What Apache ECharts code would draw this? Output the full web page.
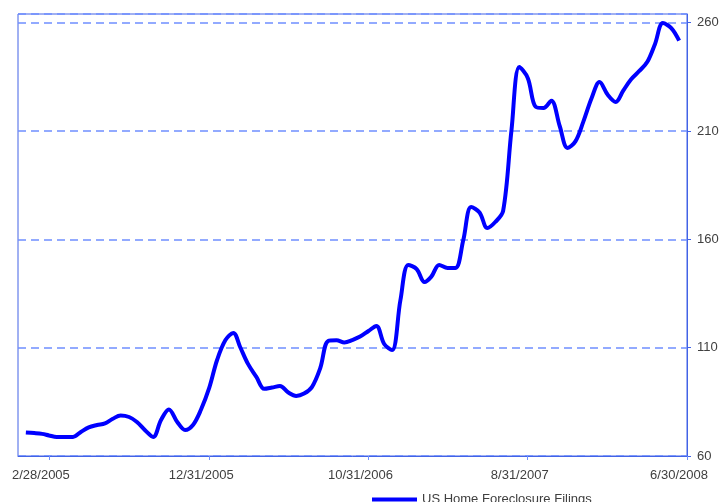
<!DOCTYPE html>
<html>
<head>
<meta charset="utf-8">
<script src="https://cdn.jsdelivr.net/npm/echarts@6/dist/echarts.min.js"></script>
<style>
  html, body { margin: 0; padding: 0; background: #ffffff; }
  #chart { width: 725px; height: 502px; }
</style>
</head>
<body>
<div id="chart"></div>
<script>
const seriesName = 'US Home Foreclosure Filings';

const dates = [
  '2005-01-15','2005-01-31','2005-02-15','2005-02-28','2005-03-15','2005-03-31','2005-04-15','2005-04-30','2005-05-15','2005-05-31',
  '2005-06-15','2005-06-30','2005-07-15','2005-07-31','2005-08-15','2005-08-31','2005-09-15','2005-09-30','2005-10-15','2005-10-31',
  '2005-11-15','2005-11-30','2005-12-15','2005-12-31','2006-01-15','2006-01-31','2006-02-15','2006-02-28','2006-03-15','2006-03-31',
  '2006-04-15','2006-04-30','2006-05-15','2006-05-31','2006-06-15','2006-06-30','2006-07-15','2006-07-31','2006-08-15','2006-08-31',
  '2006-09-15','2006-09-30','2006-10-15','2006-10-31','2006-11-15','2006-11-30','2006-12-15','2006-12-31','2007-01-15','2007-01-31',
  '2007-02-15','2007-02-28','2007-03-15','2007-03-31','2007-04-15','2007-04-30','2007-05-15','2007-05-31','2007-06-15','2007-06-30',
  '2007-07-15','2007-07-31','2007-08-15','2007-08-31','2007-09-15','2007-09-30','2007-10-15','2007-10-31','2007-11-15','2007-11-30',
  '2007-12-15','2007-12-31','2008-01-15','2008-01-31','2008-02-15','2008-02-29','2008-03-15','2008-03-31','2008-04-15','2008-04-30',
  '2008-05-15','2008-05-31','2008-06-15'
];

const values = [
  70.9, 70.6, 70.2, 69.5, 68.8, 68.8, 68.8, 71.1, 73.2, 74.3,
  75.1, 77.2, 78.7, 78.0, 75.7, 71.8, 68.8, 76.6, 81.5, 75.7,
  72.0, 74.3, 81.2, 91.4, 104.3, 113.5, 116.8, 110.3, 102.5, 96.5,
  91.0, 91.6, 92.3, 89.3, 87.7, 88.8, 91.8, 100.6, 113.1, 113.4,
  112.4, 113.5, 115.1, 117.7, 120.0, 111.7, 108.9, 132.0, 148.2, 146.3,
  140.3, 142.8, 148.2, 146.8, 146.8, 159.7, 174.9, 172.4, 165.2, 168.0,
  173.1, 210.5, 239.5, 234.5, 221.2, 220.6, 224.0, 212.3, 202.2, 205.2,
  214.2, 225.2, 232.6, 226.6, 223.4, 228.5, 233.8, 237.7, 241.8, 250.2,
  259.8, 257.5, 251.7
];

const xTickDates = ['2005-02-28', '2005-12-31', '2006-10-31', '2007-08-31', '2008-06-30'];
const xRange = ['2004-12-31', '2008-06-30'];
const yMin = 60;
const yMax = 264;
const yInterval = 50;

function toTime(s) {
  const p = s.split('-').map(Number);
  return new Date(p[0], p[1] - 1, p[2]).getTime();
}
function fmtDate(v) {
  const d = new Date(v);
  return (d.getMonth() + 1) + '/' + d.getDate() + '/' + d.getFullYear();
}

const seriesData = dates.map((d, i) => [toTime(d), values[i]]);
const tickTimes = xTickDates.map(toTime);

const chart = echarts.init(document.getElementById('chart'), null, { renderer: 'canvas' });
const borderBlue = '#4263e6';
const gridBlue = '#6f8fff';
const textColor = '#404040';
const fontFamily = 'Arial, "Liberation Sans", sans-serif';

chart.setOption({
  animation: false,
  backgroundColor: '#ffffff',
  grid: {
    left: 18, right: 38, top: 14, bottom: 46,
    show: true,
    borderColor: borderBlue,
    borderWidth: 1,
    backgroundColor: 'transparent'
  },
  legend: {
    show: true,
    left: 367,
    top: 488,
    icon: 'rect',
    itemWidth: 45,
    itemHeight: 4,
    itemGap: 10,
    textStyle: { color: textColor, fontSize: 13, fontFamily: fontFamily },
    data: [seriesName]
  },
  xAxis: {
    type: 'value',
    min: toTime(xRange[0]),
    max: toTime(xRange[1]),
    scale: true,
    axisLine: { show: true, lineStyle: { color: borderBlue, width: 1 } },
    axisTick: { show: true, length: 4, customValues: tickTimes, lineStyle: { color: gridBlue } },
    axisLabel: {
      customValues: tickTimes,
      formatter: function (v) { return fmtDate(v); },
      color: textColor,
      fontSize: 13,
      fontFamily: fontFamily,
      margin: 13,
      padding: [0, 16, 0, 0],
      hideOverlap: false
    },
    splitLine: { show: false }
  },
  yAxis: {
    type: 'value',
    position: 'right',
    min: yMin,
    max: yMax,
    interval: yInterval,
    axisLine: { show: true, lineStyle: { color: borderBlue, width: 1 } },
    axisTick: { show: true, length: 4, inside: false, lineStyle: { color: borderBlue } },
    axisLabel: {
      color: textColor,
      fontSize: 13,
      fontFamily: fontFamily,
      margin: 10,
      showMaxLabel: false
    },
    splitLine: {
      show: true,
      lineStyle: { color: gridBlue, type: [8, 5], width: 1.5 }
    }
  },
  series: [{
    name: seriesName,
    type: 'line',
    data: seriesData,
    showSymbol: false,
    symbol: 'none',
    smooth: 0.35,
    lineStyle: { color: '#0000ff', width: 4 },
    itemStyle: { color: '#0000ff' },
    z: 3
  }]
});
</script>
</body>
</html>
